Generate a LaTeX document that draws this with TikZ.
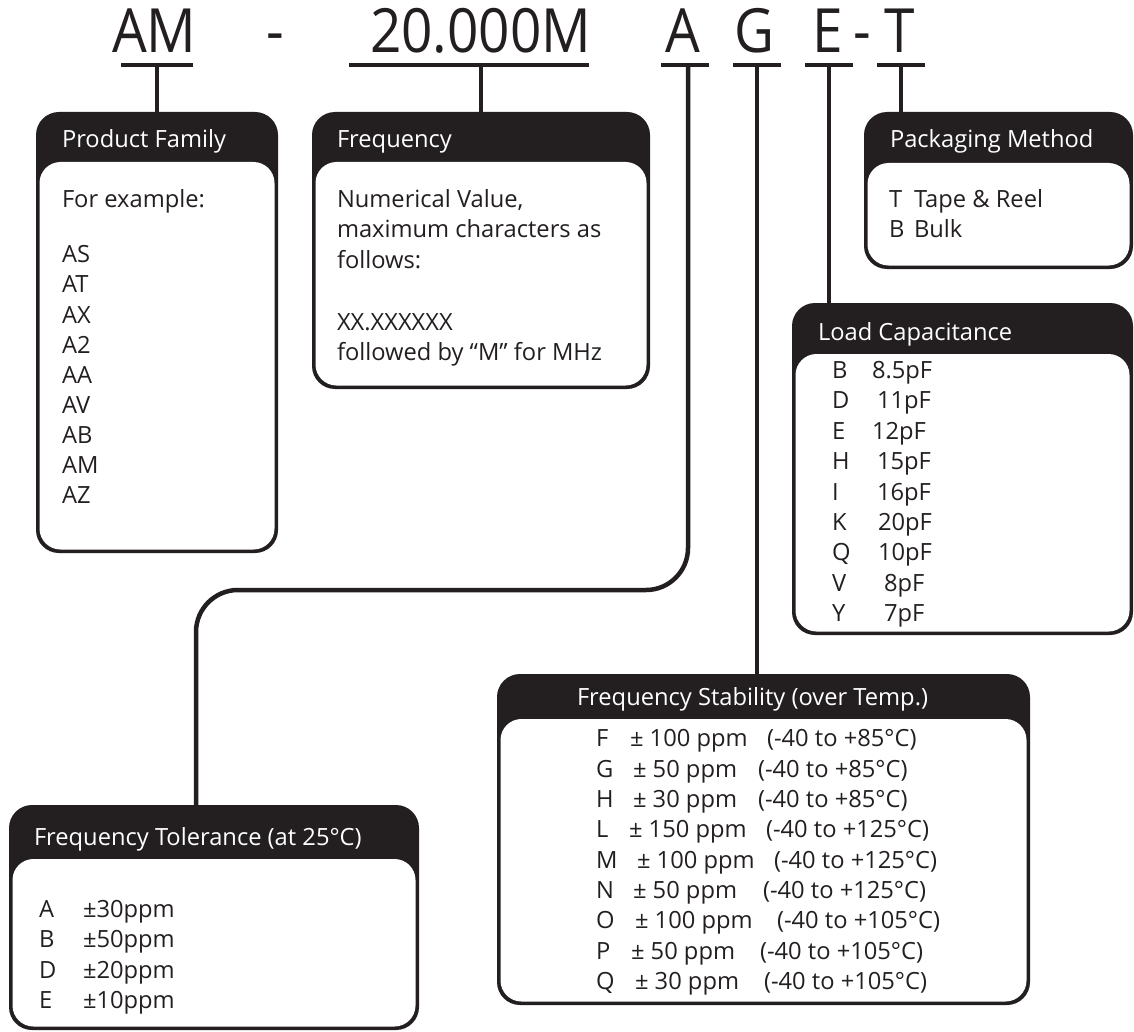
\documentclass[tikz,border=0pt]{standalone}
\usepackage{fontspec}
\setmainfont{Open Sans}
\newfontfamily\titlefont{Open Sans}[FakeStretch=0.9]
\definecolor{ink}{HTML}{231F20}
\newcommand\codebox[6]{%
  \pgfmathsetmacro\cbw{#4-#2}%
  \pgfmathsetmacro\cbh{#6-#3}%
  \node[outerbox, minimum width=\cbw pt, minimum height=\cbh pt] (#1) at (#2,#3) {};
  \fill[white, rounded corners=21pt] (#2+3.5,#5) rectangle (#4-3.5,#6-3.5);
}
\begin{document}
\begin{tikzpicture}[x=1pt,y=-1pt,
  txt/.style={anchor=base west, inner sep=0pt, outer sep=0pt, text=ink, font=\fontsize{23.7}{28}\selectfont},
  hdr/.style={txt, text=white},
  big/.style={anchor=base west, inner sep=0pt, outer sep=0pt, text=ink, font=\titlefont\fontsize{61}{62}\selectfont},
  uline/.style={draw=ink, line width=3.5pt},
  stem/.style={draw=ink, line width=4.5pt},
  outerbox/.style={fill=ink, rounded corners=23pt, inner sep=0pt, outer sep=0pt, anchor=north west},
]
\useasboundingbox[fill=white] (0,0) rectangle (1134,1032);

% ---- part number ----
\node[big] (tAM) at (112,53) {AM};
\node[big] (td1) at (266,53) {-};
\node[big] (t20) at (370,53) {20.000M};
\node[big] (tA) at (665,53) {A};
\node[big] (tG) at (734,53) {G};
\node[big] (tE) at (812,53) {E};
\node[big] (td2) at (853,53) {-};
\node[big] (tT) at (884,53) {T};

\draw[uline] (121,65) -- (193,65);
\draw[uline] (349,65) -- (589,65);
\draw[uline] (661,65) -- (709,65);
\draw[uline] (733,65) -- (781,65);
\draw[uline] (805,65) -- (853,65);
\draw[uline] (877,65) -- (925,65);

% ---- boxes ----
\codebox{pf}{36}{112}{278}{162}{553}
\codebox{fr}{312}{112}{650}{162}{389}
\codebox{pm}{864}{112}{1133}{163}{269}
\codebox{lc}{792}{303}{1133}{354}{635}
\codebox{fs}{497}{674}{1030}{719}{1005}
\codebox{ft}{9}{805}{419}{859}{1030}

% ---- connectors ----
\coordinate (uAM) at (157,65);
\coordinate (u20) at (481,65);
\coordinate (uA) at (688,65);
\coordinate (uG) at (757,65);
\coordinate (uE) at (829,65);
\coordinate (uT) at (901,65);
\coordinate (bend) at (196,590);
\draw[stem] (uAM) -- (uAM |- pf.north);
\draw[stem] (u20) -- (u20 |- fr.north);
\draw[stem] (uT) -- (uT |- pm.north);
\draw[stem] (uE) -- (uE |- lc.north);
\draw[stem] (uG) -- (uG |- fs.north);
\draw[stem, rounded corners=42pt] (uA) -- (uA |- bend) -- (bend) -- (bend |- ft.north);

% ---- Product Family ----
\node[hdr] (pfh) at (62,148) {Product Family};
\node[txt] (pf0) at (62,208) {For example:};
\node[txt] (pf1) at (62,262) {AS};
\node[txt] (pf2) at (62,292) {AT};
\node[txt] (pf3) at (62,323) {AX};
\node[txt] (pf4) at (62,353) {A2};
\node[txt] (pf5) at (62,383) {AA};
\node[txt] (pf6) at (62,413) {AV};
\node[txt] (pf7) at (62,443) {AB};
\node[txt] (pf8) at (62,473) {AM};
\node[txt] (pf9) at (62,503) {AZ};

% ---- Frequency ----
\node[hdr] (frh) at (337,148) {Frequency};
\node[txt] (fr1) at (337,208) {Numerical Value,};
\node[txt] (fr2) at (337,238) {maximum characters as};
\node[txt] (fr3) at (337,268) {follows:};
\node[txt] (fr4) at (337,330) {XX.XXXXXX};
\node[txt] (fr5) at (337,360) {followed by “M” for MHz};

% ---- Packaging Method ----
\node[hdr] (pmh) at (890,148) {Packaging Method};
\node[txt] (pm1k) at (889,208) {T};
\node[txt] (pm1v) at (914,208) {Tape \& Reel};
\node[txt] (pm2k) at (889,238) {B};
\node[txt] (pm2v) at (914,238) {Bulk};

% ---- Load Capacitance ----
\node[hdr] (lch) at (818,340) {Load Capacitance};
\foreach \k/\v/\vx/\yy [count=\i] in {B/8.5pF/872/378, D/11pF/877/408, E/12pF/872/439, H/15pF/877/469, I/16pF/877/500, K/20pF/878/530, Q/10pF/878/560, V/8pF/884/591, Y/7pF/884/621}{
  \node[txt] (lck\i) at (832,\yy) {\k};
  \node[txt] (lcv\i) at (\vx,\yy) {\v};
}

% ---- Frequency Stability ----
\node[hdr] (fsh) at (577,705) {Frequency Stability (over Temp.)};
\foreach \k/\p/\px/\r/\rx/\yy [count=\i] in {
  F/100/630/85/767/746, G/50/633/85/758/777, H/30/633/85/758/807,
  L/150/629/125/766/837, M/100/637/125/774/868, N/50/633/125/763/898,
  O/100/635/105/777/928, P/50/631/105/760/959, Q/30/635/105/764/989}{
  \node[txt] (fsk\i) at (596,\yy) {\k};
  \node[txt] (fsp\i) at (\px,\yy) {± \p\ ppm};
  \node[txt] (fsr\i) at (\rx,\yy) {(-40 to +\r°C)};
}

% ---- Frequency Tolerance ----
\node[hdr] (fth) at (34,845) {Frequency Tolerance (at 25°C)};
\foreach \k/\v/\yy [count=\i] in {A/30/917, B/50/947, D/20/978, E/10/1008}{
  \node[txt] (ftk\i) at (39,\yy) {\k};
  \node[txt] (ftv\i) at (83,\yy) {±\v ppm};
}
\end{tikzpicture}
\end{document}
